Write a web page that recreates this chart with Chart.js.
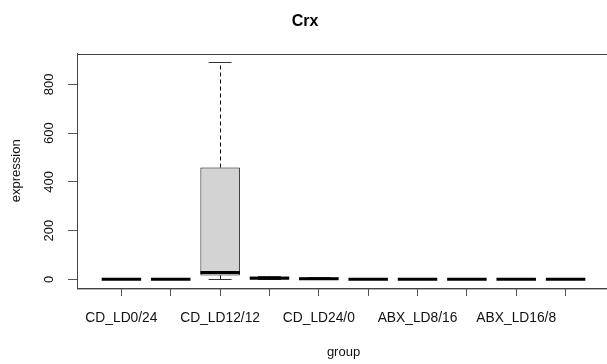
<!DOCTYPE html>
<html>
<head>
<meta charset="utf-8">
<script src="https://cdn.jsdelivr.net/npm/chart.js@4.4.1/dist/chart.umd.min.js"></script>
<style>
  html, body { margin: 0; padding: 0; background: #fff; overflow: hidden; }
  #wrap { width: 610px; height: 364px; }
</style>
</head>
<body>
<div id="wrap"><canvas id="c" width="610" height="364"></canvas></div>
<script>
const groups = ['CD_LD0/24','CD_LD8/16','CD_LD12/12','CD_LD16/8','CD_LD24/0','ABX_LD0/24','ABX_LD8/16','ABX_LD12/12','ABX_LD16/8','ABX_LD24/0'];
const mins    = [0, 0, 0,   0,  0,   0, 0, 0, 0, 0];
const q1s     = [0, 0, 16,  1.5, 0.5, 0, 0, 0, 0, 0];
const medians = [0, 0, 28,  4,  2,   0, 0, 0, 0, 0];
const q3s     = [0.3, 0.3, 459, 12, 7, 0.3, 0.3, 0.3, 0.3, 0.3];
const maxs    = [0.5, 0.5, 891, 14, 9, 0.5, 0.5, 0.5, 0.5, 0.5];
const yTicks  = [0, 200, 400, 600, 800];

const FONT = "'Liberation Sans', Arial, sans-serif";
Chart.defaults.font.family = FONT;
Chart.defaults.color = '#111';

const boxData = groups.map((g, i) => ({ x: i + 1, y: [q1s[i], q3s[i]] }));

const dataMax = Math.max(...maxs), dataMin = Math.min(...mins);
const ext = (dataMax - dataMin) * 0.04;

const boxPlugin = {
  id: 'boxExtras',
  beforeDatasetsDraw(chart) {
    const ca = chart.chartArea;
    const ctx = chart.ctx;
    ctx.save();
    ctx.strokeStyle = '#444';
    ctx.lineWidth = 1;
    ctx.strokeRect(Math.round(ca.left) + 0.5, Math.round(ca.top) + 0.5, ca.right - ca.left, ca.bottom - ca.top);
    ctx.restore();
  },
  afterDatasetsDraw(chart) {
    const ctx = chart.ctx;
    const xs = chart.scales.x, ys = chart.scales.y;
    const meta = chart.getDatasetMeta(0);
    ctx.save();
    groups.forEach((g, i) => {
      const cx = xs.getPixelForValue(i + 1);
      const w = meta.data[i].width;
      const sw = w * 0.29;
      const yMin = ys.getPixelForValue(mins[i]);
      const yMax = ys.getPixelForValue(maxs[i]);
      const yQ1 = ys.getPixelForValue(q1s[i]);
      const yQ3 = ys.getPixelForValue(q3s[i]);
      const yMed = ys.getPixelForValue(medians[i]);
      ctx.strokeStyle = '#000';
      ctx.lineWidth = 1;
      ctx.setLineDash([4, 3]);
      ctx.beginPath();
      ctx.moveTo(Math.round(cx) + 0.5, yQ3); ctx.lineTo(Math.round(cx) + 0.5, yMax);
      ctx.moveTo(Math.round(cx) + 0.5, yQ1); ctx.lineTo(Math.round(cx) + 0.5, yMin);
      ctx.stroke();
      ctx.setLineDash([]);
      ctx.strokeStyle = '#333';
      ctx.beginPath();
      ctx.moveTo(cx - sw, Math.round(yMax) + 0.5); ctx.lineTo(cx + sw, Math.round(yMax) + 0.5);
      ctx.moveTo(cx - sw, Math.round(yMin) + 0.5); ctx.lineTo(cx + sw, Math.round(yMin) + 0.5);
      ctx.stroke();
      ctx.strokeStyle = '#000';
      ctx.lineWidth = 3;
      ctx.beginPath();
      ctx.moveTo(cx - w / 2, yMed); ctx.lineTo(cx + w / 2, yMed);
      ctx.stroke();
    });
    ctx.restore();
  }
};

new Chart(document.getElementById('c'), {
  type: 'bar',
  data: {
    datasets: [{
      data: boxData,
      backgroundColor: '#d3d3d3',
      borderColor: '#000',
      borderWidth: 1,
      borderSkipped: false,
      barPercentage: 0.8,
      categoryPercentage: 1.0
    }]
  },
  options: {
    responsive: false,
    animation: false,
    events: [],
    layout: { padding: { left: 0, right: 0, top: 0, bottom: 0 } },
    plugins: {
      legend: { display: false },
      tooltip: { enabled: false },
      title: {
        display: true,
        text: 'Crx',
        font: { size: 16, weight: 'bold' },
        color: '#000',
        padding: { top: 12, bottom: 22.4 }
      }
    },
    scales: {
      x: {
        type: 'linear',
        min: 0.1,
        max: groups.length + 0.9,
        offset: false,
        afterBuildTicks: (s) => { s.ticks = groups.map((g, i) => ({ value: i + 1 })); },
        afterFit: (s) => { s.height = 76; },
        ticks: {
          autoSkip: false,
          maxRotation: 0,
          minRotation: 0,
          padding: 13.5,
          font: { size: 13.8 },
          color: '#111',
          callback: (v) => (Number.isInteger(v) && (v - 1) % 2 === 0) ? groups[v - 1] : ''
        },
        grid: { offset: false, drawOnChartArea: false, drawTicks: true, tickLength: 8, color: '#555' },
        border: { display: true, color: '#444' },
        title: {
          display: true,
          text: 'group',
          font: { size: 13 },
          color: '#111',
          padding: { top: 0, bottom: 4 }
        }
      },
      y: {
        type: 'linear',
        min: dataMin - ext,
        max: dataMax + ext,
        afterBuildTicks: (s) => { s.ticks = yTicks.map(v => ({ value: v })); },
        afterFit: (s) => { s.width = 77; },
        ticks: {
          minRotation: 90,
          maxRotation: 90,
          crossAlign: 'center',
          padding: 8,
          font: { size: 13 },
          color: '#111'
        },
        grid: { offset: false, drawOnChartArea: false, drawTicks: true, tickLength: 9, color: '#555' },
        border: { display: true, color: '#444' },
        title: {
          display: true,
          text: 'expression',
          font: { size: 13 },
          color: '#111',
          padding: { top: 9, bottom: 0 }
        }
      }
    }
  },
  plugins: [boxPlugin]
});
</script>
</body>
</html>
